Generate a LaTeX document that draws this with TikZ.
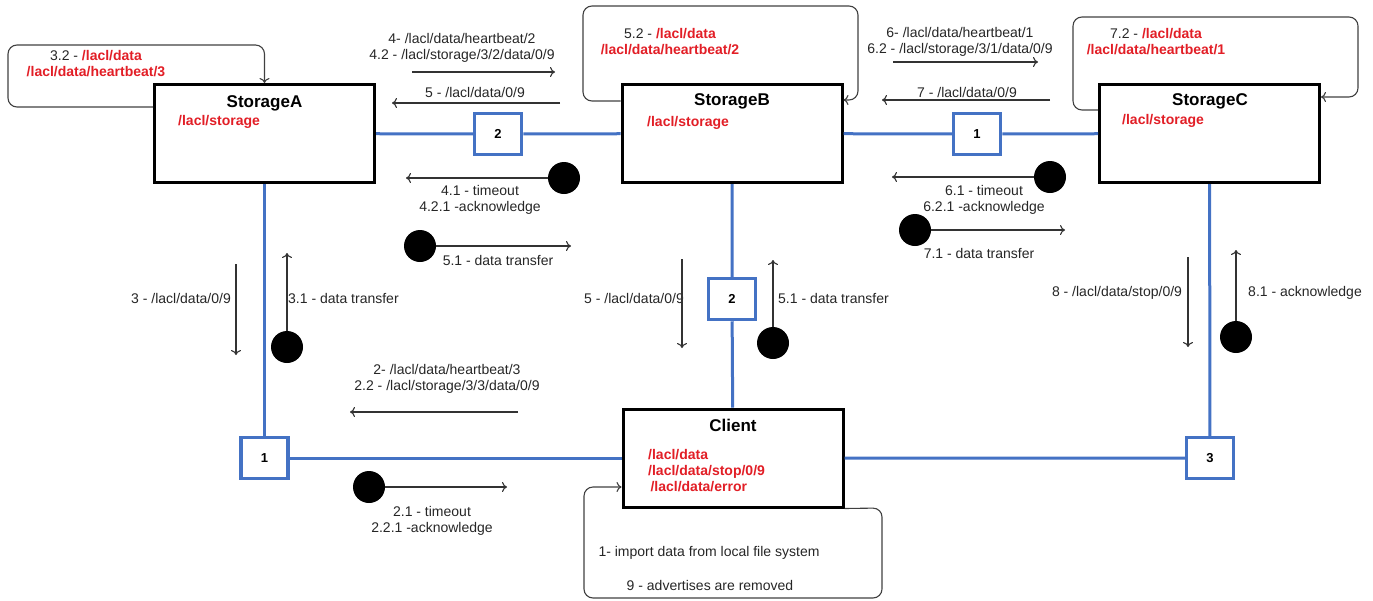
\documentclass[tikz,border=0pt]{standalone}
\usepackage{fontspec}
\setmainfont{Liberation Sans}
\usetikzlibrary{positioning}
\usetikzlibrary{arrows.meta}

\definecolor{netblue}{RGB}{68,114,196}
\definecolor{topicred}{RGB}{226,30,38}
\newcommand{\topicname}[1]{\textcolor{topicred}{\bfseries #1}}

\tikzset{
  server/.style={draw=black,line width=3pt,fill=white,minimum width=220pt,minimum height=98pt,inner sep=0pt},
  hub/.style={draw=netblue,line width=3.5pt,fill=white,minimum width=47pt,minimum height=41pt,inner sep=0pt,font=\bfseries\fontsize{13}{15}\selectfont},
  token/.style={circle,fill=black,minimum size=32pt,inner sep=0pt},
  link/.style={netblue,line width=3pt},
  msgarrow/.style={-{To[length=5pt,width=10pt]},line width=1.1pt,black!80},
  selfloop/.style={-{To[length=5pt,width=10pt]},rounded corners=9pt,line width=1.1pt,black!75},
  msg/.style={font=\fontsize{14}{16}\selectfont,text=black!85,align=center,inner sep=0pt},
  topic/.style={font=\bfseries\fontsize{14}{16}\selectfont,text=topicred,inner sep=0pt},
  boxtitle/.style={font=\bfseries\fontsize{17}{20}\selectfont,inner sep=0pt}
}

\begin{document}
\begin{tikzpicture}[x=1pt,y=-1pt]
 \useasboundingbox (0,0) rectangle (1373,600);

 % storage nodes and client
 \node[server] (stA) at (264.5,133.5) {};
 \node[server] (stB) at (732,133.5) {};
 \node[server] (stC) at (1209.5,133.5) {};
 \node[server] (client) at (733,458) {};
 \node[boxtitle] (tA) at (264.5,103) {StorageA};
 \node[boxtitle] (tB) at (732,101) {StorageB};
 \node[boxtitle] (tC) at (1210,101) {StorageC};
 \node[boxtitle] (tClient) at (733,425) {Client};
 \node[topic,anchor=west] (sA) at (178,122) {/lacl/storage};
 \node[topic,anchor=west] (sB) at (647,123) {/lacl/storage};
 \node[topic,anchor=west] (sC) at (1122,121) {/lacl/storage};
 \node[topic,anchor=west,align=left] (cTopics) at (648,471) {/lacl/data\\/lacl/data/stop/0/9\\\,/lacl/data/error};

 % hubs
 \node[hub] (hubAB) at (498,134) {2};
 \node[hub] (hubBC) at (977,134) {1};
 \node[hub] (hubA) at (264.5,458) {1};
 \node[hub] (hubB) at (732,299) {2};
 \node[hub] (hubC) at (1210,458) {3};

 % network links
 \draw[link] (stA) -- (hubAB) -- (stB) -- (hubBC) -- (stC);
 \draw[link] (stA) -- (hubA) -- (client);
 \draw[link] (stB) -- (hubB) -- (client);
 \draw[link] (stC) -- (hubC) -- (client);

 % self loops
 \draw[selfloop] (stA.west |- 0,107) -- (8,107) -- (8,45) -- (264.5,45) -- (stA.north);
 \draw[selfloop] (stB.west |- 0,101) -- (583,101) -- (583,6) -- (858,6) -- (858,100) -- (stB.east |- 0,100);
 \draw[selfloop] (stC.west |- 0,110) -- (1073,110) -- (1073,17) -- (1358,17) -- (1358,97) -- (stC.east |- 0,97);
 \draw[selfloop] (client.south east) -- (882,508) -- (882,598) -- (584,598) -- (584,487) -- (client.west |- 0,487);
 \node[msg] (lpA) at (96,64) {3.2 - \topicname{/lacl/data}\\\topicname{/lacl/data/heartbeat/3}};
 \node[msg] (lpB) at (670,42) {5.2 - \topicname{/lacl/data}\\\topicname{/lacl/data/heartbeat/2}};
 \node[msg] (lpC) at (1156,42) {7.2 - \topicname{/lacl/data}\\\topicname{/lacl/data/heartbeat/1}};
 \node[msg] (cNote1) at (709,553) {1- import data from local file system};
 \node[msg] (cNote2) at (710,585) {9 - advertises are removed};

 % messages A <-> B
 \node[msg] (m4) at (462,48) {4- /lacl/data/heartbeat/2\\4.2 - /lacl/storage/3/2/data/0/9};
 \coordinate (m4s) at (412,72);
 \coordinate (m4e) at (555,72);
 \draw[msgarrow] (m4s) -- (m4e);
 \node[msg] (m5) at (475,92) {5 - /lacl/data/0/9};
 \coordinate (m5s) at (560,103);
 \coordinate (m5e) at (392,103);
 \draw[msgarrow] (m5s) -- (m5e);
 \node[token] (tk41) at (564,178) {};
 \coordinate (tk41e) at (406,178);
 \draw[msgarrow] (tk41) -- (tk41e);
 \node[msg] (m41) at (480,200) {4.1 - timeout\\4.2.1 -acknowledge};
 \node[token] (tk51) at (420,246) {};
 \coordinate (tk51e) at (571,246);
 \draw[msgarrow] (tk51) -- (tk51e);
 \node[msg] (m51) at (498,260) {5.1 - data transfer};

 % messages B <-> C
 \node[msg] (m6) at (960,42) {6- /lacl/data/heartbeat/1\\6.2 - /lacl/storage/3/1/data/0/9};
 \coordinate (m6s) at (893,62);
 \coordinate (m6e) at (1038,62);
 \draw[msgarrow] (m6s) -- (m6e);
 \node[msg] (m7) at (967,92) {7 - /lacl/data/0/9};
 \coordinate (m7s) at (1050,100);
 \coordinate (m7e) at (882,100);
 \draw[msgarrow] (m7s) -- (m7e);
 \node[token] (tk61) at (1050,177) {};
 \coordinate (tk61e) at (892,177);
 \draw[msgarrow] (tk61) -- (tk61e);
 \node[msg] (m61) at (984,200) {6.1 - timeout\\6.2.1 -acknowledge};
 \node[token] (tk71) at (915,230) {};
 \coordinate (tk71e) at (1065,230);
 \draw[msgarrow] (tk71) -- (tk71e);
 \node[msg] (m71) at (979,253) {7.1 - data transfer};

 % messages to and from the client
 \node[msg] (m3) at (181,298) {3 - /lacl/data/0/9};
 \coordinate (m3s) at (236,264);
 \coordinate (m3e) at (236,355);
 \draw[msgarrow] (m3s) -- (m3e);
 \node[token] (tk31) at (287,347) {};
 \coordinate (tk31e) at (287,253);
 \draw[msgarrow] (tk31) -- (tk31e);
 \node[msg,anchor=west] (m31) at (288,298) {3.1 - data transfer};

 \node[msg] (m5v) at (634,298) {5 - /lacl/data/0/9};
 \coordinate (m5vs) at (682,259);
 \coordinate (m5ve) at (682,348);
 \draw[msgarrow] (m5vs) -- (m5ve);
 \node[token] (tk51v) at (773,343) {};
 \coordinate (tk51ve) at (773,260);
 \draw[msgarrow] (tk51v) -- (tk51ve);
 \node[msg,anchor=west] (m51v) at (778,298) {5.1 - data transfer};

 \node[msg] (m8) at (1117,293) {8 - /lacl/data/stop/0/9};
 \coordinate (m8s) at (1188,257);
 \coordinate (m8e) at (1188,347);
 \draw[msgarrow] (m8s) -- (m8e);
 \node[token] (tk81) at (1236,337) {};
 \coordinate (tk81e) at (1236,250);
 \draw[msgarrow] (tk81) -- (tk81e);
 \node[msg,anchor=west] (m81) at (1248,293) {8.1 - acknowledge};

 \node[msg] (m2) at (447,379) {2- /lacl/data/heartbeat/3\\2.2 - /lacl/storage/3/3/data/0/9};
 \coordinate (m2s) at (518,412);
 \coordinate (m2e) at (350,412);
 \draw[msgarrow] (m2s) -- (m2e);
 \node[token] (tk21) at (369,487) {};
 \coordinate (tk21e) at (507,487);
 \draw[msgarrow] (tk21) -- (tk21e);
 \node[msg] (m21) at (432,521) {2.1 - timeout\\2.2.1 -acknowledge};
\end{tikzpicture}
\end{document}
